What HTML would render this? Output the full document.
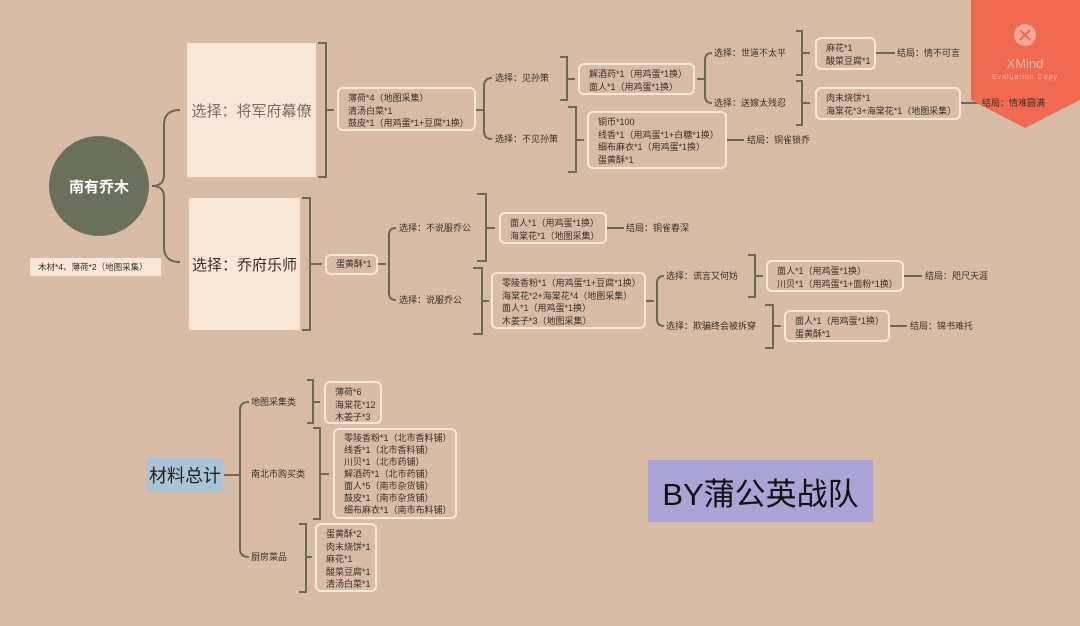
<!DOCTYPE html>
<html><head><meta charset="utf-8"><style>
body{margin:0;width:1080px;height:626px;background:#d9bca7;position:relative;overflow:hidden;font-family:"Liberation Sans","Noto Sans CJK SC",sans-serif;color:#3a2f28}
.t{position:absolute;font-size:9px;line-height:12.5px;white-space:nowrap}
.b{position:absolute;border:2px solid #f8e8da;border-radius:6px;box-sizing:border-box;padding:3px 0 0 9px;font-size:9px;line-height:12.5px;white-space:nowrap}
.big{position:absolute;background:#f8e6d6;display:flex;align-items:center;justify-content:center;font-size:15px;color:#7c6c62}
svg{position:absolute;left:0;top:0}
</style></head><body>
<svg width="1080" height="626" fill="none" stroke="#6b6a55" stroke-width="2">
<path d="M180 110 Q164 110 164 125 V175 Q164 186 152 186 Q164 186 164 197 V247 Q164 262 180 262"/>
<path d="M318 43 H326 V177 H318 M326 110 H334"/>
<path d="M476 110 H484 M492 78 Q484 78 484 86 V131 Q484 139 492 139"/>
<path d="M560 57 H567 V100 H560 M567 79 H575"/>
<path d="M568 107 H576 V172 H568 M576 140 H584"/>
<path d="M697 79 H705 M712 53 Q705 53 705 60 V96 Q705 103 712 103"/>
<path d="M796 31 H802 V75 H796 M802 53 H810"/>
<path d="M796 81 H802 V125 H796 M802 103 H810"/>
<path d="M876 53 H895 M727 140 H744 M961 103 H980"/>
<path d="M302 198 H310 V330 H302 M310 264 H322"/>
<path d="M378 264 H386 M396 228 Q389 228 389 235 V293 Q389 300 396 300"/>
<path d="M477 194 H486 V261 H477 M486 228 H495"/>
<path d="M607 228 H624"/>
<path d="M473 268 H482 V334 H473 M482 301 H489"/>
<path d="M646 301 H654 M664 276 Q657 276 657 283 V319 Q657 326 664 326"/>
<path d="M748 255 H755 V297 H748 M755 276 H763"/>
<path d="M904 276 H922"/>
<path d="M765 305 H773 V348 H765 M773 326 H781"/>
<path d="M890 326 H907"/>
<path d="M224 475 H240 M249 402 Q240 402 240 410 V549 Q240 557 249 557"/>
<path d="M307 380 H313 V423 H307 M313 402 H320"/>
<path d="M313 428 H320 V519 H313 M320 474 H329"/>
<path d="M299 524 H306 V592 H299 M306 557 H312"/>
</svg>
<svg width="1080" height="626" style="pointer-events:none">
<polygon points="971,0 1080,0 1080,100 1025,128 971,100" fill="#f06a52"/>
<circle cx="1025" cy="35" r="11" fill="#f7a899"/>
<path d="M1020 30 L1030 40 M1030 30 L1020 40" stroke="#f06a52" stroke-width="2"/>
<text x="1025" y="68" font-size="13" fill="#f9b4a6" text-anchor="middle" font-family="Liberation Sans">XMind</text>
<text x="1025" y="79" font-size="7" fill="#f9b4a6" text-anchor="middle" letter-spacing="1" font-family="Liberation Sans">Evaluation Copy</text>
</svg>
<div style="position:absolute;left:49px;top:136px;width:100px;height:100px;border-radius:50%;background:#6b705c;color:#fff;font-size:15px;font-weight:bold;display:flex;align-items:center;justify-content:center">南有乔木</div>
<div class="t" style="left:30px;top:258px;width:131px;height:18px;background:#f8e6d6;line-height:18px;padding-left:8px;box-sizing:border-box;font-size:8.5px">木材*4、薄荷*2（地图采集）</div>
<div class="big" style="left:187px;top:43px;width:129px;height:134px">选择：将军府幕僚</div>
<div class="big" style="left:189px;top:198px;width:111px;height:132px;color:#3a2f28">选择：乔府乐师</div>
<div class="b" style="left:337px;top:87px;width:139px;height:44px;padding-top:3px">薄荷*4（地图采集）<br>清汤白菜*1<br>鼓皮*1（用鸡蛋*1+豆腐*1换）</div>
<div class="t" style="left:495px;top:72px">选择：见孙策</div>
<div class="t" style="left:495px;top:133px">选择：不见孙策</div>
<div class="b" style="left:578px;top:63px;width:117px;height:32px">解酒药*1（用鸡蛋*1换）<br>面人*1（用鸡蛋*1换）</div>
<div class="b" style="left:587px;top:111px;width:140px;height:58px">铜币*100<br>线香*1（用鸡蛋*1+白糖*1换）<br>细布麻衣*1（用鸡蛋*1换）<br>蛋黄酥*1</div>
<div class="t" style="left:747px;top:134px">结局：铜雀锁乔</div>
<div class="t" style="left:714px;top:47px">选择：世道不太平</div>
<div class="t" style="left:714px;top:97px">选择：送嫁太残忍</div>
<div class="b" style="left:815px;top:37px;width:61px;height:33px">麻花*1<br>酸菜豆腐*1</div>
<div class="t" style="left:897px;top:47px">结局：情不可言</div>
<div class="b" style="left:815px;top:87px;width:146px;height:33px">肉末烧饼*1<br>海棠花*3+海棠花*1（地图采集）</div>
<div class="t" style="left:982px;top:97px">结局：情难圆满</div>
<div class="b" style="left:325px;top:254px;width:53px;height:21px;padding-top:2px">蛋黄酥*1</div>
<div class="t" style="left:399px;top:222px">选择：不说服乔公</div>
<div class="t" style="left:399px;top:294px">选择：说服乔公</div>
<div class="b" style="left:499px;top:212px;width:108px;height:32px">面人*1（用鸡蛋*1换）<br>海棠花*1（地图采集）</div>
<div class="t" style="left:626px;top:222px">结局：铜雀春深</div>
<div class="b" style="left:491px;top:272px;width:155px;height:57px">零陵香粉*1（用鸡蛋*1+豆腐*1换）<br>海棠花*2+海棠花*4（地图采集）<br>面人*1（用鸡蛋*1换）<br>木姜子*3（地图采集）</div>
<div class="t" style="left:666px;top:270px">选择：谎言又何妨</div>
<div class="t" style="left:666px;top:320px">选择：欺骗终会被拆穿</div>
<div class="b" style="left:766px;top:260px;width:138px;height:32px">面人*1（用鸡蛋*1换）<br>川贝*1（用鸡蛋*1+面粉*1换）</div>
<div class="t" style="left:925px;top:270px">结局：咫尺天涯</div>
<div class="b" style="left:784px;top:310px;width:106px;height:32px">面人*1（用鸡蛋*1换）<br>蛋黄酥*1</div>
<div class="t" style="left:910px;top:320px">结局：锦书难托</div>
<div style="position:absolute;left:147px;top:458px;width:76px;height:34px;background:#a9c4d8;font-size:18px;display:flex;align-items:center;justify-content:center;color:#222">材料总计</div>
<div class="t" style="left:251px;top:396px">地图采集类</div>
<div class="t" style="left:251px;top:468px">南北市购买类</div>
<div class="t" style="left:251px;top:551px">厨房菜品</div>
<div class="b" style="left:324px;top:381px;width:58px;height:43px">薄荷*6<br>海棠花*12<br>木姜子*3</div>
<div class="b" style="left:333px;top:428px;width:124px;height:91px;line-height:12px;padding-top:2px">零陵香粉*1（北市香料铺）<br>线香*1（北市香料铺）<br>川贝*1（北市药铺）<br>解酒药*1（北市药铺）<br>面人*5（南市杂货铺）<br>鼓皮*1（南市杂货铺）<br>细布麻衣*1（南市布料铺）</div>
<div class="b" style="left:315px;top:523px;width:62px;height:69px">蛋黄酥*2<br>肉末烧饼*1<br>麻花*1<br>酸菜豆腐*1<br>清汤白菜*1</div>
<div style="position:absolute;left:648px;top:460px;width:225px;height:62px;background:#aaa3d6;font-size:31px;display:flex;align-items:center;justify-content:center;color:#111">BY蒲公英战队</div>
</body></html>
